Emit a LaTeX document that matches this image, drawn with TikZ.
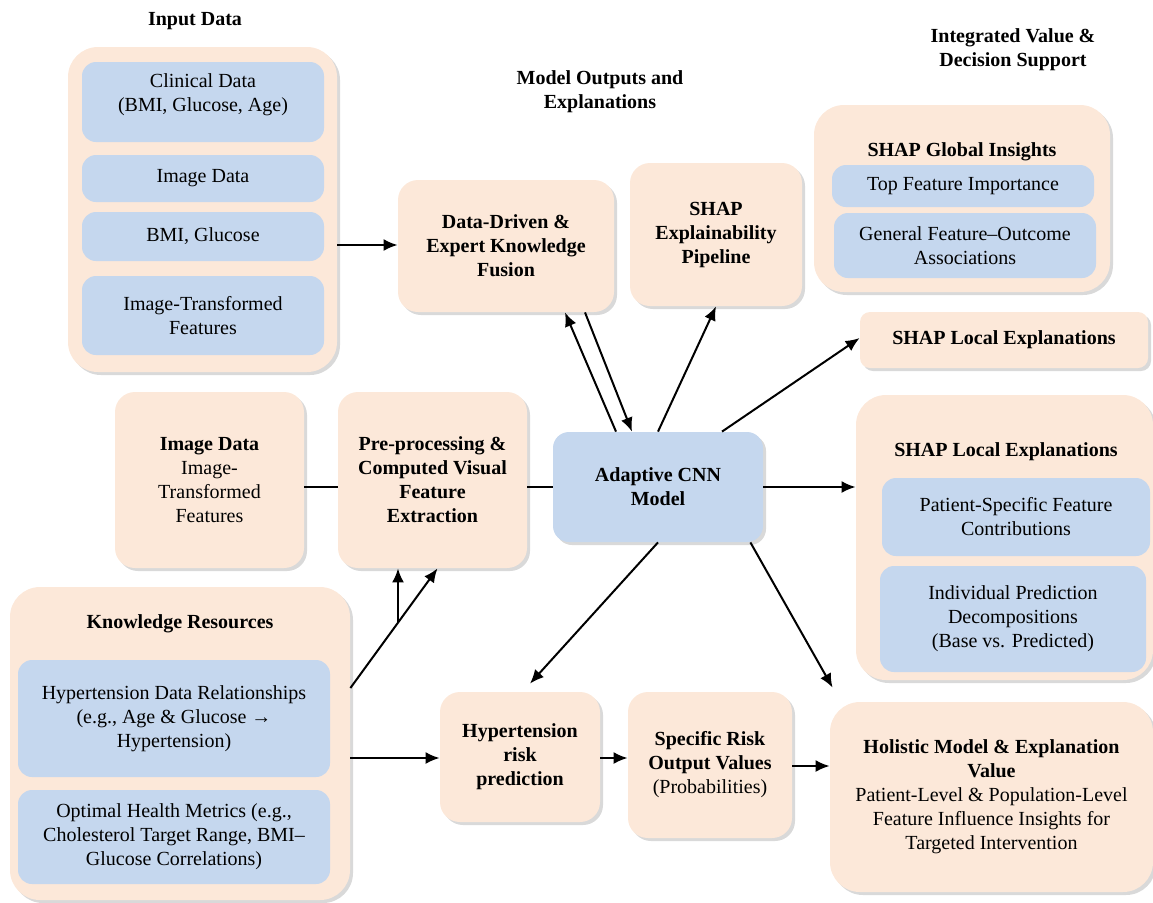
\documentclass[tikz,border=0pt]{standalone}
\usepackage{fontspec}
\setmainfont{Liberation Serif}
\usetikzlibrary{shadows,arrows.meta}
\definecolor{peach}{RGB}{252,232,217}
\definecolor{paleblue}{RGB}{197,215,238}

\begin{document}
\begin{tikzpicture}[x=0.5pt,y=-0.5pt,
		every node/.style={font=\fontsize{10}{12}\selectfont,align=center},
		boxsize/.style 2 args={minimum width=#1pt,minimum height=#2pt},
		peachbox/.style={fill=peach,rounded corners=#1,inner sep=0pt,
			drop shadow={opacity=0.3,shadow xshift=1.5pt,shadow yshift=-1.5pt}},
		peachbox/.default=10pt,
		bluebox/.style={fill=paleblue,rounded corners=7pt,inner sep=0pt},
		head/.style={font=\fontsize{10}{12}\selectfont\bfseries},
		arr/.style={-{Latex[length=7pt,width=6pt]},line width=1pt},
		link/.style={line width=1pt}]
	\useasboundingbox (0,0) rectangle (1153,902);
	% column titles
	\node[head] (tin) at (195,21) {Input Data};
	\node[head] (tout) at (600,92) {Model Outputs and\\Explanations};
	\node[head] (tint) at (1013,50) {Integrated Value \&\\Decision Support};
	% input data
	\node[peachbox=15pt,boxsize={134.5}{162.5}] (input) at (202.5,209.5) {};
	\node[bluebox,boxsize={121}{40}] (clin) at (203,102) {};
	\node (clintxt) at (203,95) {Clinical Data\\(BMI, Glucose, Age)};
	\node[bluebox,boxsize={121}{23.5}] (imgd) at (203,178.5) {Image Data};
	\node[bluebox,boxsize={121}{24.5}] (bmig) at (203,236.5) {BMI, Glucose};
	\node[bluebox,boxsize={121}{39.5}] (imgf) at (203,315.5) {Image-Transformed\\Features};
	% model outputs
	\node[peachbox,boxsize={108}{66}] (fusion) at (506,246)
		{\textbf{Data-Driven \&}\\\textbf{Expert Knowledge}\\\textbf{Fusion}};
	\node[peachbox,boxsize={86}{71.5}] (pipe) at (716,234.5)
		{\textbf{SHAP}\\\textbf{Explainability}\\\textbf{Pipeline}};
	\node[peachbox=15pt,boxsize={148}{93.5}] (glob) at (962,198.5) {};
	\node[head] (globt) at (962,152) {SHAP Global Insights};
	\node[bluebox,boxsize={131}{21}] (topf) at (963,186) {Top Feature Importance};
	\node[bluebox,boxsize={131}{32.5}] (assoc) at (965,245.5) {General Feature--Outcome\\Associations};
	\node[peachbox=5pt,boxsize={144}{28}] (locs) at (1004,340) {\textbf{SHAP Local Explanations}};
	% middle row
	\node[peachbox,boxsize={94.5}{88}] (imgbox) at (209.5,480)
		{\textbf{Image Data}\\Image-\\Transformed\\Features};
	\node[peachbox,boxsize={94.5}{88}] (prep) at (432.5,480)
		{\textbf{Pre-processing \&}\\\textbf{Computed Visual}\\\textbf{Feature}\\\textbf{Extraction}};
	\node[fill=paleblue,rounded corners=8pt,inner sep=0pt,boxsize={105}{55},
		drop shadow={opacity=0.3,shadow xshift=1.5pt,shadow yshift=-1.5pt}]
		(cnn) at (658,487) {\textbf{Adaptive CNN}\\\textbf{Model}};
	\node[peachbox=15pt,boxsize={148.5}{142.5}] (locb) at (1004.5,537.5) {};
	\node[head] (locbt) at (1006,452) {SHAP Local Explanations};
	\node[bluebox,boxsize={134}{39}] (contr) at (1016,517) {Patient-Specific Feature\\Contributions};
	\node[bluebox,boxsize={133}{53}] (decomp) at (1013,619)
		{Individual Prediction\\Decompositions\\(Base vs. Predicted)};
	% knowledge and risk row
	\node[peachbox=15pt,boxsize={170}{156.5}] (know) at (180,743.5) {};
	\node[head] (knowt) at (180,624) {Knowledge Resources};
	\node[bluebox,boxsize={156}{58.5}] (rel) at (174,718.5)
		{Hypertension Data Relationships\\(e.g., Age \& Glucose →\\Hypertension)};
	\node[bluebox,boxsize={156}{47}] (metr) at (174,837)
		{Optimal Health Metrics (e.g.,\\Cholesterol Target Range, BMI--\\Glucose Correlations)};
	\node[peachbox,boxsize={80}{65}] (risk) at (520,757)
		{\textbf{Hypertension}\\\textbf{risk}\\\textbf{prediction}};
	\node[peachbox,boxsize={82}{73}] (spec) at (710,765)
		{\textbf{Specific Risk}\\\textbf{Output Values}\\(Probabilities)};
	\node[peachbox=15pt,boxsize={161.5}{95}] (holi) at (991.5,797)
		{\textbf{Holistic Model \& Explanation}\\\textbf{Value}\\Patient-Level \& Population-Level\\Feature Influence Insights for\\Targeted Intervention};
	% connectors
	\draw[arr] (input.east |- 0,245) -- (fusion.west |- 0,245);
	\draw[arr] ([xshift=-21pt]cnn.north) -- ([xshift=29.5pt]fusion.south);
	\draw[arr] ([xshift=39.5pt]fusion.south) -- ([xshift=-13pt]cnn.north);
	\draw[arr] (cnn.north) -- (pipe.south);
	\draw[arr] ([xshift=32pt]cnn.north) -- (locs.west |- 0,338);
	\draw[arr] (cnn.east) -- (locb.west |- cnn.east);
	\draw[arr] ([xshift=-6.5pt]cnn.south east) -- ([xshift=1.5pt,yshift=7pt]holi.north west);
	\draw[arr] (cnn.south) -- ([xshift=5pt,yshift=4pt]risk.north);
	\draw[link] (imgbox.east |- 0,487) -- (prep.west |- 0,487);
	\draw[link] (prep.east |- 0,487) -- (cnn.west |- 0,487);
	\coordinate (kr) at (know.east |- 0,688);
	\draw[arr] (kr) -- ([xshift=2.5pt]prep.south);
	\coordinate (kv) at (398,623);
	\draw[arr] (kv) -- (prep.south -| kv);
	\draw[arr] (know.east |- 0,758) -- (risk.west |- 0,758);
	\draw[arr] (risk.east |- 0,758) -- (spec.west |- 0,758);
	\draw[arr] (spec.east |- 0,766) -- (holi.west |- 0,766);
\end{tikzpicture}
\end{document}
